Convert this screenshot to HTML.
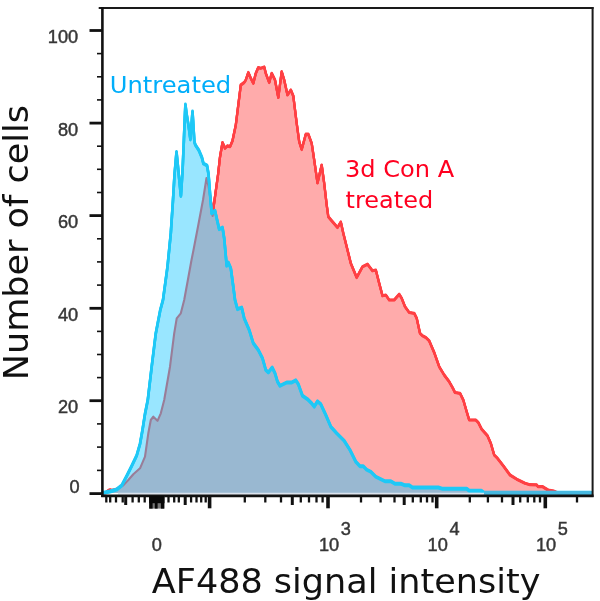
<!DOCTYPE html>
<html><head><meta charset="utf-8"><title>Histogram</title>
<style>
html,body{margin:0;padding:0;background:#fff;}
body{width:600px;height:601px;overflow:hidden;position:relative;}
svg{position:absolute;left:0;top:0;display:block;}
.tl text{font-family:"Liberation Sans",sans-serif;font-size:18.2px;fill:#363636;stroke:#363636;stroke-width:0.45px;}
.dv{font-family:"DejaVu Sans",sans-serif;}
</style></head><body>
<svg width="600" height="601" viewBox="0 0 600 601">
<rect width="600" height="601" fill="#fff"/>
<g style="filter:blur(0.6px)">
<polygon points="102.5,493.3 106.0,492.6 108.6,490.4 110.2,489.8 112.0,490.4 116.7,489.3 123.3,485.3 128.3,480.0 133.3,474.2 140.0,468.3 145.0,456.7 148.3,433.3 150.8,420.0 153.3,416.7 157.5,420.8 160.8,413.3 164.2,400.0 170.0,366.7 174.2,333.3 176.7,318.3 180.8,313.3 184.2,300.0 187.5,282.0 191.5,260.0 193.5,250.0 198.3,225.0 203.0,200.0 206.5,178.0 208.5,186.0 211.0,202.0 212.6,216.0 213.6,207.0 215.5,193.0 218.0,175.0 220.0,157.0 222.5,142.5 225.0,148.3 227.5,145.8 230.0,146.7 232.5,140.8 235.8,125.0 238.3,105.0 240.8,85.0 244.2,82.5 245.8,80.0 248.3,72.5 250.8,78.3 253.3,83.3 255.8,73.3 258.3,67.5 260.8,68.3 264.2,67.0 265.8,73.3 269.2,82.5 271.7,73.3 275.0,80.0 278.3,97.5 281.7,71.7 284.2,80.0 287.5,95.0 290.8,90.0 293.3,96.0 296.7,123.3 299.2,141.7 301.7,149.5 305.8,134.2 308.3,134.2 311.7,143.3 314.2,160.0 317.5,183.0 321.7,165.0 324.2,183.3 326.7,205.0 328.3,216.7 331.7,220.8 337.5,227.5 340.8,222.0 343.3,233.3 345.0,240.0 350.8,263.3 356.7,277.5 362.5,266.7 367.5,264.2 372.5,270.8 375.8,270.0 379.2,283.3 382.5,295.8 385.8,295.0 389.2,300.0 394.2,300.0 399.2,294.2 401.7,298.3 405.0,306.7 409.2,312.5 414.2,313.3 416.7,318.3 420.0,333.3 422.5,335.8 425.8,337.5 429.2,340.8 434.2,352.5 439.2,366.7 444.2,375.0 449.2,381.7 452.5,387.5 455.0,392.5 460.0,393.3 463.3,400.0 466.7,411.7 469.2,420.0 475.8,420.0 478.3,422.5 481.7,429.2 487.5,435.8 490.8,443.3 494.2,455.0 497.5,458.3 503.3,465.8 510.0,475.0 516.7,479.2 525.0,483.3 530.0,484.7 536.7,484.9 538.0,486.7 542.7,486.7 548.0,490.0 554.0,491.2 559.0,493.2 591.0,493.4 592.0,493.0 102.5,493.0" fill="#ffabab"/>
<defs><clipPath id="outb"><path clip-rule="evenodd" d="M0,0H600V601H0Z M102.5,493.0 L110.0,491.5 L116.7,489.5 L121.7,485.5 L126.7,476.0 L131.7,466.0 L136.7,455.5 L140.0,444.0 L142.5,430.0 L145.0,414.0 L147.8,400.0 L151.7,366.7 L155.8,333.3 L160.3,310.0 L163.0,300.0 L167.5,266.7 L170.8,233.3 L173.0,200.0 L174.5,175.0 L176.5,152.0 L178.5,172.0 L180.9,196.0 L182.6,170.0 L183.9,140.0 L184.7,120.0 L185.4,104.5 L186.6,114.0 L188.6,126.0 L190.4,139.5 L192.5,111.5 L194.4,142.0 L195.4,145.0 L198.9,150.4 L201.9,157.5 L203.4,163.5 L207.0,165.5 L208.5,174.0 L209.6,188.0 L210.5,200.0 L211.7,213.3 L215.0,210.8 L216.7,218.3 L219.2,229.2 L222.5,227.5 L224.2,238.3 L226.7,265.8 L228.3,262.5 L230.8,268.3 L233.3,286.7 L235.0,300.0 L237.5,309.2 L241.7,307.5 L244.2,318.3 L249.2,330.0 L253.3,343.3 L258.3,350.0 L262.5,358.3 L265.8,370.0 L268.3,372.5 L272.2,367.5 L275.0,373.3 L277.5,381.7 L280.0,385.8 L286.7,382.5 L291.7,382.5 L295.8,380.3 L298.3,384.2 L302.5,395.8 L307.5,399.2 L311.7,403.3 L314.2,406.7 L317.5,401.3 L320.8,404.2 L325.8,415.0 L330.8,426.7 L336.7,433.3 L344.2,440.8 L350.0,450.0 L355.8,461.7 L360.0,466.3 L363.3,466.3 L366.7,469.7 L370.8,471.7 L375.8,476.7 L385.0,481.2 L390.8,481.2 L395.0,483.7 L400.8,483.7 L405.0,485.3 L409.2,485.3 L412.5,487.5 L438.3,487.5 L442.7,488.8 L466.7,488.8 L469.3,490.7 L481.3,490.7 L484.0,492.8 L590.8,492.8 L592.0,493.0 L102.5,493.0Z"/></clipPath></defs>
<polyline points="102.5,493.3 106.0,492.6 108.6,490.4 110.2,489.8 112.0,490.4 116.7,489.3 123.3,485.3 128.3,480.0 133.3,474.2 140.0,468.3 145.0,456.7 148.3,433.3 150.8,420.0 153.3,416.7 157.5,420.8 160.8,413.3 164.2,400.0 170.0,366.7 174.2,333.3 176.7,318.3 180.8,313.3 184.2,300.0 187.5,282.0 191.5,260.0 193.5,250.0 198.3,225.0 203.0,200.0 206.5,178.0 208.5,186.0 211.0,202.0 212.6,216.0 213.6,207.0 215.5,193.0 218.0,175.0 220.0,157.0 222.5,142.5 225.0,148.3 227.5,145.8 230.0,146.7 232.5,140.8 235.8,125.0 238.3,105.0 240.8,85.0 244.2,82.5 245.8,80.0 248.3,72.5 250.8,78.3 253.3,83.3 255.8,73.3 258.3,67.5 260.8,68.3 264.2,67.0 265.8,73.3 269.2,82.5 271.7,73.3 275.0,80.0 278.3,97.5 281.7,71.7 284.2,80.0 287.5,95.0 290.8,90.0 293.3,96.0 296.7,123.3 299.2,141.7 301.7,149.5 305.8,134.2 308.3,134.2 311.7,143.3 314.2,160.0 317.5,183.0 321.7,165.0 324.2,183.3 326.7,205.0 328.3,216.7 331.7,220.8 337.5,227.5 340.8,222.0 343.3,233.3 345.0,240.0 350.8,263.3 356.7,277.5 362.5,266.7 367.5,264.2 372.5,270.8 375.8,270.0 379.2,283.3 382.5,295.8 385.8,295.0 389.2,300.0 394.2,300.0 399.2,294.2 401.7,298.3 405.0,306.7 409.2,312.5 414.2,313.3 416.7,318.3 420.0,333.3 422.5,335.8 425.8,337.5 429.2,340.8 434.2,352.5 439.2,366.7 444.2,375.0 449.2,381.7 452.5,387.5 455.0,392.5 460.0,393.3 463.3,400.0 466.7,411.7 469.2,420.0 475.8,420.0 478.3,422.5 481.7,429.2 487.5,435.8 490.8,443.3 494.2,455.0 497.5,458.3 503.3,465.8 510.0,475.0 516.7,479.2 525.0,483.3 530.0,484.7 536.7,484.9 538.0,486.7 542.7,486.7 548.0,490.0 554.0,491.2 559.0,493.2 591.0,493.4" fill="none" stroke="#ff4044" stroke-width="2.1" stroke-linejoin="round" stroke-linecap="round"/>
<g fill="none" stroke="#ff4044" stroke-width="2.3" stroke-linejoin="round" stroke-linecap="round" clip-path="url(#outb)">
<polyline id="rl" points="102.5,493.3 106.0,492.6 108.6,490.4 110.2,489.8 112.0,490.4 116.7,489.3 123.3,485.3 128.3,480.0 133.3,474.2 140.0,468.3 145.0,456.7 148.3,433.3 150.8,420.0 153.3,416.7 157.5,420.8 160.8,413.3 164.2,400.0 170.0,366.7 174.2,333.3 176.7,318.3 180.8,313.3 184.2,300.0 187.5,282.0 191.5,260.0 193.5,250.0 198.3,225.0 203.0,200.0 206.5,178.0 208.5,186.0 211.0,202.0 212.6,216.0 213.6,207.0 215.5,193.0 218.0,175.0 220.0,157.0 222.5,142.5 225.0,148.3 227.5,145.8 230.0,146.7 232.5,140.8 235.8,125.0 238.3,105.0 240.8,85.0 244.2,82.5 245.8,80.0 248.3,72.5 250.8,78.3 253.3,83.3 255.8,73.3 258.3,67.5 260.8,68.3 264.2,67.0 265.8,73.3 269.2,82.5 271.7,73.3 275.0,80.0 278.3,97.5 281.7,71.7 284.2,80.0 287.5,95.0 290.8,90.0 293.3,96.0 296.7,123.3 299.2,141.7 301.7,149.5 305.8,134.2 308.3,134.2 311.7,143.3 314.2,160.0 317.5,183.0 321.7,165.0 324.2,183.3 326.7,205.0 328.3,216.7 331.7,220.8 337.5,227.5 340.8,222.0 343.3,233.3 345.0,240.0 350.8,263.3 356.7,277.5 362.5,266.7 367.5,264.2 372.5,270.8 375.8,270.0 379.2,283.3 382.5,295.8 385.8,295.0 389.2,300.0 394.2,300.0 399.2,294.2 401.7,298.3 405.0,306.7 409.2,312.5 414.2,313.3 416.7,318.3 420.0,333.3 422.5,335.8 425.8,337.5 429.2,340.8 434.2,352.5 439.2,366.7 444.2,375.0 449.2,381.7 452.5,387.5 455.0,392.5 460.0,393.3 463.3,400.0 466.7,411.7 469.2,420.0 475.8,420.0 478.3,422.5 481.7,429.2 487.5,435.8 490.8,443.3 494.2,455.0 497.5,458.3 503.3,465.8 510.0,475.0 516.7,479.2 525.0,483.3 530.0,484.7 536.7,484.9 538.0,486.7 542.7,486.7 548.0,490.0 554.0,491.2 559.0,493.2 591.0,493.4"/>
<use href="#rl" y="-0.45"/><use href="#rl" y="0.45"/>
</g>
<polygon points="102.5,493.0 110.0,491.5 116.7,489.5 121.7,485.5 126.7,476.0 131.7,466.0 136.7,455.5 140.0,444.0 142.5,430.0 145.0,414.0 147.8,400.0 151.7,366.7 155.8,333.3 160.3,310.0 163.0,300.0 167.5,266.7 170.8,233.3 173.0,200.0 174.5,175.0 176.5,152.0 178.5,172.0 180.9,196.0 182.6,170.0 183.9,140.0 184.7,120.0 185.4,104.5 186.6,114.0 188.6,126.0 190.4,139.5 192.5,111.5 194.4,142.0 195.4,145.0 198.9,150.4 201.9,157.5 203.4,163.5 207.0,165.5 208.5,174.0 209.6,188.0 210.5,200.0 211.7,213.3 215.0,210.8 216.7,218.3 219.2,229.2 222.5,227.5 224.2,238.3 226.7,265.8 228.3,262.5 230.8,268.3 233.3,286.7 235.0,300.0 237.5,309.2 241.7,307.5 244.2,318.3 249.2,330.0 253.3,343.3 258.3,350.0 262.5,358.3 265.8,370.0 268.3,372.5 272.2,367.5 275.0,373.3 277.5,381.7 280.0,385.8 286.7,382.5 291.7,382.5 295.8,380.3 298.3,384.2 302.5,395.8 307.5,399.2 311.7,403.3 314.2,406.7 317.5,401.3 320.8,404.2 325.8,415.0 330.8,426.7 336.7,433.3 344.2,440.8 350.0,450.0 355.8,461.7 360.0,466.3 363.3,466.3 366.7,469.7 370.8,471.7 375.8,476.7 385.0,481.2 390.8,481.2 395.0,483.7 400.8,483.7 405.0,485.3 409.2,485.3 412.5,487.5 438.3,487.5 442.7,488.8 466.7,488.8 469.3,490.7 481.3,490.7 484.0,492.8 590.8,492.8 592.0,493.0 102.5,493.0" fill="#1cc8ff" fill-opacity="0.45"/>
<g fill="none" stroke="#1ec8f6" stroke-width="2.6" stroke-linejoin="round" stroke-linecap="round">
<polyline id="bl" points="102.5,493.0 110.0,491.5 116.7,489.5 121.7,485.5 126.7,476.0 131.7,466.0 136.7,455.5 140.0,444.0 142.5,430.0 145.0,414.0 147.8,400.0 151.7,366.7 155.8,333.3 160.3,310.0 163.0,300.0 167.5,266.7 170.8,233.3 173.0,200.0 174.5,175.0 176.5,152.0 178.5,172.0 180.9,196.0 182.6,170.0 183.9,140.0 184.7,120.0 185.4,104.5 186.6,114.0 188.6,126.0 190.4,139.5 192.5,111.5 194.4,142.0 195.4,145.0 198.9,150.4 201.9,157.5 203.4,163.5 207.0,165.5 208.5,174.0 209.6,188.0 210.5,200.0 211.7,213.3 215.0,210.8 216.7,218.3 219.2,229.2 222.5,227.5 224.2,238.3 226.7,265.8 228.3,262.5 230.8,268.3 233.3,286.7 235.0,300.0 237.5,309.2 241.7,307.5 244.2,318.3 249.2,330.0 253.3,343.3 258.3,350.0 262.5,358.3 265.8,370.0 268.3,372.5 272.2,367.5 275.0,373.3 277.5,381.7 280.0,385.8 286.7,382.5 291.7,382.5 295.8,380.3 298.3,384.2 302.5,395.8 307.5,399.2 311.7,403.3 314.2,406.7 317.5,401.3 320.8,404.2 325.8,415.0 330.8,426.7 336.7,433.3 344.2,440.8 350.0,450.0 355.8,461.7 360.0,466.3 363.3,466.3 366.7,469.7 370.8,471.7 375.8,476.7 385.0,481.2 390.8,481.2 395.0,483.7 400.8,483.7 405.0,485.3 409.2,485.3 412.5,487.5 438.3,487.5 442.7,488.8 466.7,488.8 469.3,490.7 481.3,490.7 484.0,492.8 590.8,492.8"/>
<use href="#bl" y="-0.65"/><use href="#bl" y="0.65"/>
</g>
</g>
<rect x="118" y="492.75" width="368" height="2.0" fill="#dbe3ee"/>
<line x1="484" y1="492.9" x2="591.6" y2="492.9" stroke="#46b8e0" stroke-width="3.8"/>
<g style="filter:blur(0.4px)">
<line x1="98.7" y1="7.9" x2="593.6" y2="7.9" stroke="#1a1a1a" stroke-width="2"/>
<line x1="592.6" y1="7" x2="592.6" y2="497" stroke="#1a1a1a" stroke-width="2"/>
<line x1="102.4" y1="7" x2="102.4" y2="497" stroke="#111" stroke-width="2.6"/>
<line x1="101.2" y1="495.85" x2="593.6" y2="495.85" stroke="#111" stroke-width="2.6"/>
<line x1="89.5" y1="30.5" x2="102" y2="30.5" stroke="#111" stroke-width="2.8"/>
<line x1="89.5" y1="123.1" x2="102" y2="123.1" stroke="#111" stroke-width="2.8"/>
<line x1="89.5" y1="215.6" x2="102" y2="215.6" stroke="#111" stroke-width="2.8"/>
<line x1="89.5" y1="308.3" x2="102" y2="308.3" stroke="#111" stroke-width="2.8"/>
<line x1="89.5" y1="400.7" x2="102" y2="400.7" stroke="#111" stroke-width="2.8"/>
<line x1="89.5" y1="493.6" x2="102" y2="493.6" stroke="#111" stroke-width="2.8"/>
<line x1="97" y1="53.6" x2="102" y2="53.6" stroke="#111" stroke-width="1.6"/>
<line x1="97" y1="76.8" x2="102" y2="76.8" stroke="#111" stroke-width="1.6"/>
<line x1="97" y1="99.9" x2="102" y2="99.9" stroke="#111" stroke-width="1.6"/>
<line x1="97" y1="146.2" x2="102" y2="146.2" stroke="#111" stroke-width="1.6"/>
<line x1="97" y1="169.3" x2="102" y2="169.3" stroke="#111" stroke-width="1.6"/>
<line x1="97" y1="192.5" x2="102" y2="192.5" stroke="#111" stroke-width="1.6"/>
<line x1="97" y1="238.8" x2="102" y2="238.8" stroke="#111" stroke-width="1.6"/>
<line x1="97" y1="261.9" x2="102" y2="261.9" stroke="#111" stroke-width="1.6"/>
<line x1="97" y1="285.1" x2="102" y2="285.1" stroke="#111" stroke-width="1.6"/>
<line x1="97" y1="331.4" x2="102" y2="331.4" stroke="#111" stroke-width="1.6"/>
<line x1="97" y1="354.5" x2="102" y2="354.5" stroke="#111" stroke-width="1.6"/>
<line x1="97" y1="377.6" x2="102" y2="377.6" stroke="#111" stroke-width="1.6"/>
<line x1="97" y1="423.9" x2="102" y2="423.9" stroke="#111" stroke-width="1.6"/>
<line x1="97" y1="447.1" x2="102" y2="447.1" stroke="#111" stroke-width="1.6"/>
<line x1="97" y1="470.4" x2="102" y2="470.4" stroke="#111" stroke-width="1.6"/>
<line x1="106.3" y1="496.0" x2="106.3" y2="502.5" stroke="#111" stroke-width="2.3"/>
<line x1="110.2" y1="496.0" x2="110.2" y2="502.5" stroke="#111" stroke-width="2.3"/>
<line x1="116" y1="496.0" x2="116" y2="502.5" stroke="#111" stroke-width="2.3"/>
<line x1="122.7" y1="496.0" x2="122.7" y2="502.5" stroke="#111" stroke-width="2.3"/>
<line x1="132.6" y1="496.0" x2="132.6" y2="502.5" stroke="#111" stroke-width="2.3"/>
<line x1="138.8" y1="496.0" x2="138.8" y2="502.5" stroke="#111" stroke-width="2.3"/>
<line x1="144.7" y1="496.0" x2="144.7" y2="502.5" stroke="#111" stroke-width="2.3"/>
<line x1="168.5" y1="496.0" x2="168.5" y2="502.5" stroke="#111" stroke-width="2.3"/>
<line x1="174.2" y1="496.0" x2="174.2" y2="502.5" stroke="#111" stroke-width="2.3"/>
<line x1="178.8" y1="496.0" x2="178.8" y2="502.5" stroke="#111" stroke-width="2.3"/>
<line x1="191.1" y1="496.0" x2="191.1" y2="502.5" stroke="#111" stroke-width="2.3"/>
<line x1="196.5" y1="496.0" x2="196.5" y2="502.5" stroke="#111" stroke-width="2.3"/>
<line x1="201.2" y1="496.0" x2="201.2" y2="502.5" stroke="#111" stroke-width="2.3"/>
<line x1="205.7" y1="496.0" x2="205.7" y2="502.5" stroke="#111" stroke-width="2.3"/>
<line x1="244.8" y1="496.0" x2="244.8" y2="502.5" stroke="#111" stroke-width="2.3"/>
<line x1="265.3" y1="496.0" x2="265.3" y2="502.5" stroke="#111" stroke-width="2.3"/>
<line x1="281" y1="496.0" x2="281" y2="502.5" stroke="#111" stroke-width="2.3"/>
<line x1="300.8" y1="496.0" x2="300.8" y2="502.5" stroke="#111" stroke-width="2.3"/>
<line x1="309" y1="496.0" x2="309" y2="502.5" stroke="#111" stroke-width="2.3"/>
<line x1="316.5" y1="496.0" x2="316.5" y2="502.5" stroke="#111" stroke-width="2.3"/>
<line x1="322.6" y1="496.0" x2="322.6" y2="502.5" stroke="#111" stroke-width="2.3"/>
<line x1="361" y1="496.0" x2="361" y2="502.5" stroke="#111" stroke-width="2.3"/>
<line x1="380.6" y1="496.0" x2="380.6" y2="502.5" stroke="#111" stroke-width="2.3"/>
<line x1="394.5" y1="496.0" x2="394.5" y2="502.5" stroke="#111" stroke-width="2.3"/>
<line x1="412.8" y1="496.0" x2="412.8" y2="502.5" stroke="#111" stroke-width="2.3"/>
<line x1="420.8" y1="496.0" x2="420.8" y2="502.5" stroke="#111" stroke-width="2.3"/>
<line x1="427" y1="496.0" x2="427" y2="502.5" stroke="#111" stroke-width="2.3"/>
<line x1="432.5" y1="496.0" x2="432.5" y2="502.5" stroke="#111" stroke-width="2.3"/>
<line x1="469.8" y1="496.0" x2="469.8" y2="502.5" stroke="#111" stroke-width="2.3"/>
<line x1="487.9" y1="496.0" x2="487.9" y2="502.5" stroke="#111" stroke-width="2.3"/>
<line x1="502" y1="496.0" x2="502" y2="502.5" stroke="#111" stroke-width="2.3"/>
<line x1="520.2" y1="496.0" x2="520.2" y2="502.5" stroke="#111" stroke-width="2.3"/>
<line x1="527.8" y1="496.0" x2="527.8" y2="502.5" stroke="#111" stroke-width="2.3"/>
<line x1="534.3" y1="496.0" x2="534.3" y2="502.5" stroke="#111" stroke-width="2.3"/>
<line x1="540" y1="496.0" x2="540" y2="502.5" stroke="#111" stroke-width="2.3"/>
<line x1="577" y1="496.0" x2="577" y2="502.5" stroke="#111" stroke-width="2.3"/>
<line x1="125.7" y1="496.0" x2="125.7" y2="505" stroke="#111" stroke-width="3.0"/>
<line x1="185.2" y1="496.0" x2="185.2" y2="505" stroke="#111" stroke-width="3.0"/>
<line x1="292.3" y1="496.0" x2="292.3" y2="505" stroke="#111" stroke-width="3.0"/>
<line x1="404.2" y1="496.0" x2="404.2" y2="505" stroke="#111" stroke-width="3.0"/>
<line x1="513" y1="496.0" x2="513" y2="505" stroke="#111" stroke-width="3.0"/>
<line x1="209.6" y1="496.0" x2="209.6" y2="508.3" stroke="#111" stroke-width="3.6"/>
<line x1="328" y1="496.0" x2="328" y2="508.3" stroke="#111" stroke-width="3.6"/>
<line x1="436.7" y1="496.0" x2="436.7" y2="508.3" stroke="#111" stroke-width="3.6"/>
<line x1="545.3" y1="496.0" x2="545.3" y2="508.3" stroke="#111" stroke-width="3.6"/>
<rect x="149.2" y="496.0" width="15.1" height="7.2" fill="#080808"/>
<rect x="149.2" y="496.0" width="15.1" height="12.6" fill="#777"/>
<rect x="149.2" y="496.0" width="3.4" height="12.6" fill="#080808"/>
<rect x="154.8" y="496.0" width="2.8" height="12.6" fill="#080808"/>
<rect x="160.9" y="496.0" width="3.4" height="12.6" fill="#080808"/>
<rect x="149.2" y="496.0" width="15.1" height="7.2" fill="#080808"/>
</g>
<g class="tl" style="filter:blur(0.5px)">
<text x="78.2" y="43.1" text-anchor="end">100</text>
<text x="78.2" y="135.7" text-anchor="end">80</text>
<text x="78.2" y="228.2" text-anchor="end">60</text>
<text x="78.2" y="320.9" text-anchor="end">40</text>
<text x="78.2" y="413.3" text-anchor="end">20</text>
<text x="79.6" y="492.6" text-anchor="end">0</text>
<text x="156.8" y="550.6" text-anchor="middle">0</text>
<text x="319.0" y="550.6">10</text><text x="340.8" y="534.8">3</text>
<text x="427.6" y="550.6">10</text><text x="449.4" y="534.8">4</text>
<text x="535.9" y="550.6">10</text><text x="557.7" y="534.8">5</text>
</g>
<text class="dv" x="109.7" y="92.8" font-size="23.2" fill="#00aefa" textLength="121.5" lengthAdjust="spacingAndGlyphs">Untreated</text>
<text class="dv" x="345.0" y="177.3" font-size="23.2" fill="#ff0020" textLength="109.2" lengthAdjust="spacingAndGlyphs">3d Con A</text>
<text class="dv" x="345.6" y="207.6" font-size="23.2" fill="#ff0020" textLength="87.6" lengthAdjust="spacingAndGlyphs">treated</text>
<text class="dv" x="151.8" y="592.6" font-size="34.4" fill="#111" textLength="388.6" lengthAdjust="spacingAndGlyphs">AF488 signal intensity</text>
<text class="dv" transform="translate(27.8,380.3) rotate(-90)" font-size="34.4" fill="#111" textLength="275.4" lengthAdjust="spacingAndGlyphs">Number of cells</text>
</svg>
</body></html>
